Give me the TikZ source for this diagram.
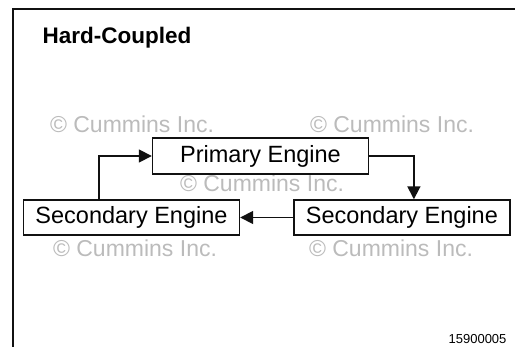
\documentclass[tikz,border=0pt]{standalone}
\usepackage{fontspec}
\setmainfont{Liberation Sans}
\usetikzlibrary{arrows.meta,positioning}
\definecolor{ink}{HTML}{111111}
\definecolor{wmgray}{HTML}{BBBBBB}

\begin{document}
\begin{tikzpicture}[
  x=1pt, y=-1pt,
  enginebox/.style={draw=ink, line width=1.4pt, inner sep=0pt, minimum width=216pt, minimum height=35pt, font=\fontsize{23.5}{26}\selectfont},
  wmark/.style={text=wmgray, font=\fontsize{23}{26}\selectfont},
  arr/.style={-{Triangle[length=13pt,width=13pt]}, line width=1.7pt, draw=ink}
]
\useasboundingbox (0,0) rectangle (515,347);
\draw[line width=2pt, ink] (13,347) -- (13,9) -- (515,9);
\node[anchor=base west, font=\fontsize{22.5}{26}\selectfont\bfseries] (title) at (39,44) {Hard-Coupled};
% watermarks
\node[wmark] (wm1) at (132,124) {© Cummins Inc.};
\node[wmark] (wm2) at (392,124) {© Cummins Inc.};
\node[wmark] (wm3) at (262,183) {© Cummins Inc.};
\node[wmark] (wm4) at (135,248) {© Cummins Inc.};
\node[wmark] (wm5) at (391,248) {© Cummins Inc.};
% engines
\node[enginebox, minimum height=36pt] (prim) at (260.5,156) {Primary Engine};
\node[enginebox] (sec1) at (131.5,217.5) {Secondary Engine};
\node[enginebox, right=53pt of sec1] (sec2) {Secondary Engine};
\draw[arr] ([xshift=76pt]sec1.north west) |- (prim.west);
\draw[arr] (prim.east) -| ([xshift=12pt]sec2.north);
\draw[arr] (sec2.west) -- (sec1.east);
\node[anchor=base east, font=\fontsize{13}{15}\selectfont] (code) at (510,343.5) {15900005};
\end{tikzpicture}
\end{document}
